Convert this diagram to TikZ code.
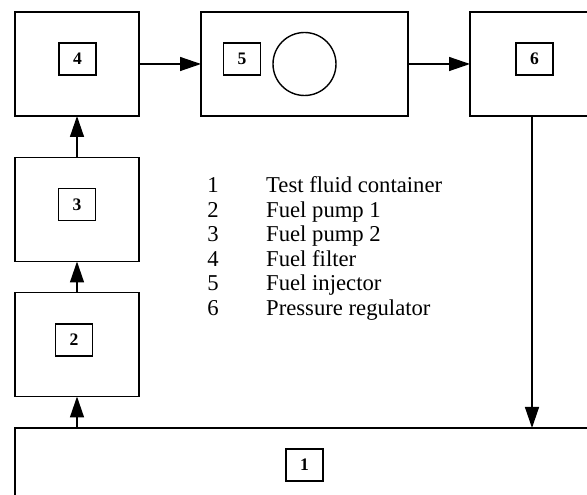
\documentclass[tikz,border=0pt]{standalone}
\usepackage{fontspec}
\setmainfont{Liberation Serif}
\usetikzlibrary{arrows.meta}
\begin{document}
\begin{tikzpicture}[
	unit/.style={draw, line width=1pt, inner sep=0pt, outer sep=0pt, minimum width=2.48cm, minimum height=2.08cm},
	tag/.style={draw, line width=.8pt, inner sep=0pt, minimum width=.74cm, minimum height=.64cm, font=\fontsize{10}{10}\selectfont\bfseries},
	flow/.style={line width=.8pt, -{Triangle[length=4.2mm,width=2.8mm]}},
	key/.style={anchor=base, font=\fontsize{12.9}{14}\selectfont}
	]
	\useasboundingbox (0,0) rectangle (11.74,9.90) ;
	\clip (0,0) rectangle (11.74,9.90) ;
		% units
		\node (b4)[unit] at (1.54, 8.62) {} ;
		\node (b3)[unit] at (1.54, 5.71) {} ;
		\node (b2)[unit] at (1.54, 3.01) {} ;
		\node (b5)[unit, minimum width=4.14cm] at (6.09, 8.62) {} ;
		\node (b6)[unit] at (10.64, 8.62) {} ;
		\node (b1)[unit, minimum width=11.58cm, minimum height=1.84cm] at (6.09, .42) {} ;
		% numbers
		\node (n4)[tag] at (1.55, 8.72) {4} ;
		\node (n3)[tag] at (1.54, 5.81) {3} ;
		\node (n2)[tag] at (1.48, 3.10) {2} ;
		\node (n5)[tag] at (4.84, 8.72) {5} ;
		\node (n6)[tag] at (10.69, 8.72) {6} ;
		\node (n1)[tag] at (6.09, .60) {1} ;
		\node (c5)[draw, circle, line width=.8pt, minimum size=1.26cm] at (6.09, 8.62) {} ;
		% legend
		\node (k1)[key] at (4.26, 6.04) {1} ;
		\node (t1)[key, anchor=base west] at (5.20, 6.04) {Test fluid container} ;
		\node (k2)[key] at (4.26, 5.55) {2} ;
		\node (t2)[key, anchor=base west] at (5.20, 5.55) {Fuel pump 1} ;
		\node (k3)[key] at (4.26, 5.06) {3} ;
		\node (t3)[key, anchor=base west] at (5.20, 5.06) {Fuel pump 2} ;
		\node (k4)[key] at (4.26, 4.57) {4} ;
		\node (t4)[key, anchor=base west] at (5.20, 4.57) {Fuel filter} ;
		\node (k5)[key] at (4.26, 4.08) {5} ;
		\node (t5)[key, anchor=base west] at (5.20, 4.08) {Fuel injector} ;
		\node (k6)[key] at (4.26, 3.59) {6} ;
		\node (t6)[key, anchor=base west] at (5.20, 3.59) {Pressure regulator} ;
	\draw[flow] (b2.south |- b1.north) -- (b2.south) ;
	\draw[flow] (b2) -- (b3) ;
	\draw[flow] (b3) -- (b4) ;
	\draw[flow] (b4) -- (b5) ;
	\draw[flow] (b5) -- (b6) ;
	\draw[flow] (b6.south) -- (b6.south |- b1.north) ;
\end{tikzpicture}
\end{document}
